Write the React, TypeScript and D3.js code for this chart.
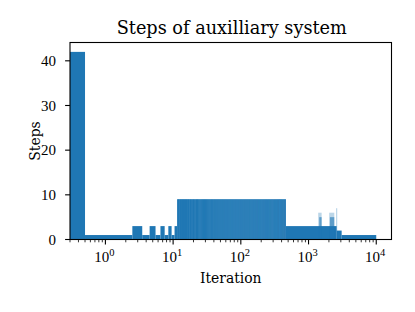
import React from 'react';
import * as d3 from 'd3';

// runs of equal step counts (inclusive iteration ranges)
const runStart = [0, 1, 3, 4, 5, 6, 7, 8, 9, 10, 11, 12, 464, 2600, 3084];
const runEnd = [0, 2, 3, 4, 5, 6, 7, 8, 9, 10, 11, 463, 2599, 3083, 9999];
const runSteps = [42, 1, 3, 1, 3, 1, 3, 1, 3, 1, 3, 9, 3, 2, 1];

// sparse spikes: only a share of the iterations in the range reach the value
const spikeStart = [1390, 1440, 2020, 2070, 2560];
const spikeEnd = [1560, 1560, 2400, 2400, 2650];
const spikeSteps = [6, 5, 6, 5, 7];
const spikeShare = [0.3, 0.6, 0.3, 0.6, 0.35];

const yTicks = [0, 10, 20, 30, 40];
const xMajor = [1, 10, 100, 1000, 10000];
const xExponents = ['0', '1', '2', '3', '4'];

const W = 415;
const H = 312;
const margin = { top: 42.5, right: 23.5, bottom: 72.5, left: 70 };
const BLUE = '#1f77b4';
const FONT = '"DejaVu Serif", serif';
const NUM_FONT = '"Liberation Serif", serif';

const App: React.FC = () => {
  const x = d3.scaleLog().domain([0.3, 16800]).range([margin.left, W - margin.right]);
  const y = d3.scaleLinear().domain([0, 44.1]).range([H - margin.bottom, margin.top]);
  const [x0, x1] = x.range();
  const [yb, yt] = y.range();

  const xMinor: number[] = [];
  [0.1, 1, 10, 100, 1000].forEach((dec) => {
    for (let m = 2; m <= 9; m++) {
      const v = dec * m;
      if (v >= 0.3 && v <= 16800) xMinor.push(v);
    }
  });

  const left = (i: number) => (i - 0.5 <= 0.3 ? x0 : x(i - 0.5));
  const right = (i: number) => x(i + 0.5);

  const bars: JSX.Element[] = [];
  runStart.forEach((s, k) => {
    const e = runEnd[k];
    const v = runSteps[k];
    const many = e - s > 20 && e < 464;
    bars.push(
      <rect
        key={`r${k}`}
        x={left(s)}
        y={y(v)}
        width={right(e) - left(s)}
        height={yb - y(v)}
        fill={BLUE}
        fillOpacity={many ? 0.78 : 1}
      />
    );
    if (many) {
      // thin individual bars leave light seams like the original raster
      for (let i = s; i <= e; i++) {
        bars.push(
          <rect key={`b${i}`} x={left(i)} y={y(v)} width={right(i) - left(i)} height={yb - y(v)} fill={BLUE} />
        );
      }
    }
  });

  return (
    <svg width={W} height={H} style={{ position: 'absolute', left: 0, top: 0 }} fontFamily={FONT}>
      <rect width={W} height={H} fill="#fff" />
      <defs>
        <clipPath id="plot">
          <rect x={x0} y={yt} width={x1 - x0} height={yb - yt} />
        </clipPath>
      </defs>
      <g clipPath="url(#plot)">
        {bars}
        {spikeStart.map((s, k) => (
          <rect
            key={`s${k}`}
            x={left(s)}
            y={y(spikeSteps[k])}
            width={right(spikeEnd[k]) - left(s)}
            height={yb - y(spikeSteps[k])}
            fill={BLUE}
            fillOpacity={spikeShare[k]}
          />
        ))}
      </g>
      <rect x={x0} y={yt} width={x1 - x0} height={yb - yt} fill="none" stroke="#000" strokeWidth={1.1} />
      {/* y axis */}
      {yTicks.map((t) => (
        <g key={`y${t}`}>
          <line x1={x0 - 4.9} x2={x0} y1={y(t)} y2={y(t)} stroke="#000" strokeWidth={1.1} />
          <text x={x0 - 14} y={y(t)} dy="0.34em" textAnchor="end" fontSize={15} fontFamily={NUM_FONT}>
            {t}
          </text>
        </g>
      ))}
      {/* x axis */}
      {xMinor.map((t) => (
        <line key={`m${t}`} x1={x(t)} x2={x(t)} y1={yb} y2={yb + 2.8} stroke="#000" strokeWidth={0.8} />
      ))}
      {xMajor.map((t, i) => (
        <g key={`x${t}`}>
          <line x1={x(t)} x2={x(t)} y1={yb} y2={yb + 4.9} stroke="#000" strokeWidth={1.1} />
          <text x={x(t) - 1} y={262} textAnchor="middle" fontSize={15} fontFamily={NUM_FONT}>
            10
            <tspan dy={-6.5} fontSize={10.5}>
              {xExponents[i]}
            </tspan>
          </text>
        </g>
      ))}
      <text x={(x0 + x1) / 2} y={283} textAnchor="middle" fontSize={13.9}>
        Iteration
      </text>
      <text transform={`translate(39.5, ${(yt + yb) / 2}) rotate(-90)`} textAnchor="middle" fontSize={13.9}>
        Steps
      </text>
      <text x={(x0 + x1) / 2 + 1} y={33.5} textAnchor="middle" fontSize={17.7}>
        Steps of auxilliary system
      </text>
    </svg>
  );
};

export default App;
